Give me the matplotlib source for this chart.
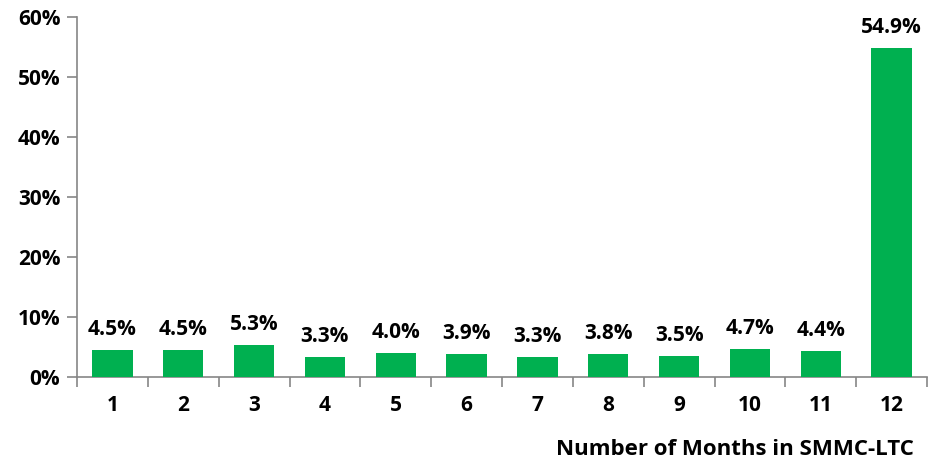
import matplotlib
matplotlib.use("Agg")
import matplotlib.pyplot as plt
import numpy as np
from matplotlib.ticker import FixedLocator, NullFormatter, FuncFormatter

plt.rcParams["font.family"] = ["Open Sans", "DejaVu Sans"]
plt.rcParams["font.weight"] = "bold"

months = ["1", "2", "3", "4", "5", "6", "7", "8", "9", "10", "11", "12"]
share = [4.5, 4.5, 5.3, 3.3, 4.0, 3.9, 3.3, 3.8, 3.5, 4.7, 4.4, 54.9]

GREEN = "#00B050"
AXIS = "#868686"
FS = 15

fig = plt.figure(figsize=(9.38, 4.72), dpi=100)
ax = fig.add_axes([0.0821, 0.2013, 0.9062, 0.7627])

x = np.arange(len(months))
ax.bar(x, share, width=0.57, color=GREEN, zorder=3)
for xi, v in zip(x, share):
    ax.annotate(f"{v:.1f}%", (xi, v), xytext=(0, 7), textcoords="offset points",
                ha="center", va="bottom", fontsize=FS, fontweight="bold")

ax.set_xlim(-0.5, len(months) - 0.5)
ax.set_ylim(0, 60)
ax.set_yticks(np.arange(0, 61, 10))
ax.yaxis.set_major_formatter(FuncFormatter(lambda v, p: f"{v:.0f}%"))

# category labels centred, tick marks between categories
ax.xaxis.set_major_locator(FixedLocator(np.arange(-0.5, len(months), 1)))
ax.xaxis.set_major_formatter(NullFormatter())
ax.xaxis.set_minor_locator(FixedLocator(x))
ax.set_xticklabels(months, minor=True)
ax.tick_params(axis="x", which="minor", length=0, pad=13, labelsize=FS)
ax.tick_params(axis="x", which="major", length=7, width=1.2, color=AXIS,
               direction="out")
ax.tick_params(axis="y", length=7, width=1.2, color=AXIS, labelsize=FS, pad=5)

for s in ("top", "right"):
    ax.spines[s].set_visible(False)
for s in ("left", "bottom"):
    ax.spines[s].set_color(AXIS)
    ax.spines[s].set_linewidth(1.2)

fig.text(0.974, 0.025, "Number of Months in SMMC-LTC", ha="right", va="bottom",
         fontsize=16, fontweight="bold")

fig.savefig("out.png", dpi=100)
